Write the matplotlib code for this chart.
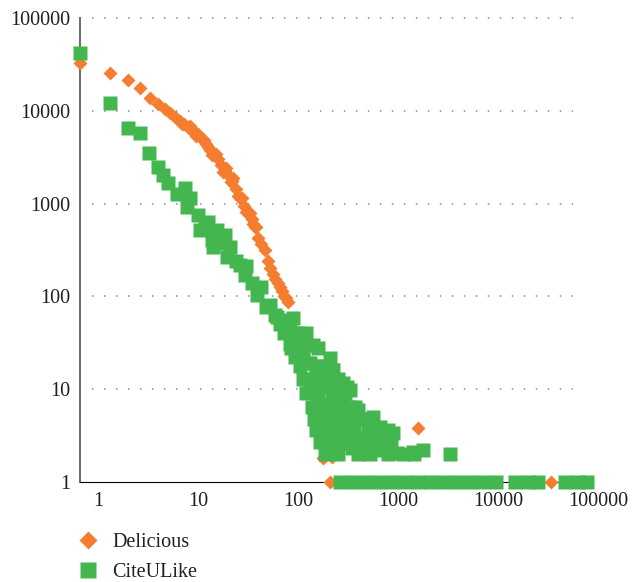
import matplotlib
matplotlib.use("Agg")
import matplotlib.pyplot as plt
from matplotlib.lines import Line2D
from matplotlib.transforms import ScaledTranslation
from matplotlib.ticker import FixedLocator, FixedFormatter, NullLocator

# ---------------- data ----------------
delicious_x = [1, 2, 3, 4, 5, 6, 7, 8, 9, 10, 11, 12, 13, 14, 15, 16, 17, 18, 19, 20,
               22, 24, 26, 28, 30, 33, 36, 40, 44, 48, 52, 56, 60, 65, 70, 75, 80, 85,
               90, 95, 100, 105, 110, 115, 120, 214, 262, 270, 330, 316, 2400, 51500,
               10.5, 12.5, 14.5, 17.5, 21, 23, 27, 29, 32, 34, 38, 42, 46, 50, 54, 58]
delicious_y = [32700, 25400, 21500, 17600, 13800, 11800, 10500, 9400, 8500, 7800, 7200,
               6700, 6200, 5900, 5600, 5200, 4800, 4400, 4100, 3800, 3400, 3000, 2600,
               2300, 2050, 1750, 1450, 1150, 950, 800, 680, 560, 430, 370, 320, 240, 200,
               175, 155, 140, 125, 115, 102, 95, 87, 6.3, 3.0, 1.8, 1.86, 1, 3.8, 1,
               7200, 6800, 5300, 4800, 3300, 3400, 2200, 2400, 1700, 1900, 1200, 1150,
               820, 800, 600, 560]

citeulike_x = [1, 2, 3, 4, 4.9, 6.05, 6.8, 7.6, 9.3, 11.2, 12.6, 11.7, 15.2, 19.2, 15.8,
               17.8, 23.3, 20.7, 25, 28, 21.5, 31.6, 29.3, 36, 40, 46, 44.7, 52, 65, 58.8,
               73, 79, 89, 92.6, 100, 115, 126, 136, 131, 126, 147, 141, 160, 170, 215,
               185, 200, 316, 341, 328, 200, 270, 430, 464, 500, 293, 597, 855, 1000,
               1360, 430, 680, 1000, 1470, 2150, 2700, 5000,
               240, 300, 350, 400, 450, 250, 280, 330, 380, 420, 500, 550, 620, 700, 750,
               900, 1200, 350, 520, 300, 260, 360, 420, 230, 250, 380,
               110, 150, 180, 130, 170, 240, 160, 230, 260, 170, 210, 280, 330,
               180, 230, 330, 380, 450, 210, 260, 400, 500, 560, 220, 300, 400, 650, 700,
               230, 350, 450, 800, 1000, 1200, 250, 300, 500, 560, 800, 1100, 1300,
               280, 380, 600, 800, 1200, 1700, 2200,
               398, 537, 724, 977, 1318, 1778, 2399, 3236, 4365, 5888, 7943, 10715,
               14454, 22387, 30200, 38019, 70795, 95499, 117490]
citeulike_y = [42000, 12200, 6480, 5720, 3540, 2500, 2040, 1660, 1280, 1460, 1140, 930,
               750, 640, 520, 542, 520, 405, 372, 459, 340, 340, 267, 240, 218, 210, 170,
               140, 127, 103, 77.5, 81, 63, 60, 50, 42, 56, 58, 40, 31, 24, 22.4, 35, 26,
               30, 19, 19, 21.5, 16, 16, 10.2, 10.6, 11.6, 10.6, 9.8, 7.0, 5.97, 5.06,
               3.94, 3.35, 2.6, 2.21, 2.2, 2.04, 2.1, 2.2, 2.0,
               8, 6, 5, 7, 5.5, 4.5, 3.5, 4, 3.2, 4.2, 4.5, 3.5, 2.8, 3.0, 4.0,
               2.6, 2.6, 2.5, 2.3, 12.5, 14, 8.5, 8, 6, 12, 13,
               40, 40, 40, 28, 28, 28, 18, 18, 18, 13, 13, 13, 13,
               9, 9, 9, 9, 9, 6.5, 6.5, 6.5, 6.5, 6.5, 4.8, 4.8, 4.8, 4.8, 4.8,
               3.6, 3.6, 3.6, 3.6, 3.6, 3.6, 2.7, 2.7, 2.7, 2.7, 2.7, 2.7, 2.7,
               2.0, 2.0, 2.0, 2.0, 2.0, 2.0, 2.0,
               1, 1, 1, 1, 1, 1, 1, 1, 1, 1, 1, 1,
               1, 1, 1, 1, 1, 1, 1]

series_labels = ["Delicious", "CiteULike"]
tick_values = [1, 10, 100, 1000, 10000, 100000]
tick_labels = ["1", "10", "100", "1000", "10000", "100000"]

# ---------------- style ----------------
ORANGE = "#F47D30"
GREEN = "#43B64F"
TEXT = "#231F20"
FONT = "Liberation Serif"
FS = 14.5
MS_D = 7.6
MS_S = 9.8

plt.rcParams["font.family"] = [FONT, "DejaVu Serif"]

W, H = 632, 582
fig = plt.figure(figsize=(W / 100, H / 100), dpi=100)
ax = fig.add_axes([80 / W, 100 / H, 513 / W, 464 / H])

ax.set_xscale("log")
ax.set_yscale("log")
ax.set_xlim(1, 10 ** 5.13)
ax.set_ylim(1, 1e5)

# dotted gridlines
ytrans = ax.get_yaxis_transform()
for yv in tick_values[1:]:
    ax.plot([0.023, 0.961], [yv, yv], transform=ytrans, color="#8a8a8a",
            lw=1.1, ls=(0, (1, 6.85)), zorder=1, clip_on=False)

ax.plot(delicious_x, delicious_y, ls="none", marker="D", ms=MS_D, color=ORANGE,
        mec="none", zorder=3, clip_on=False)
ax.plot(citeulike_x, citeulike_y, ls="none", marker="s", ms=MS_S, color=GREEN,
        mec="none", zorder=4, clip_on=False)

for s in ["top", "right"]:
    ax.spines[s].set_visible(False)
ax.spines["left"].set_color("#6d6e71")
ax.spines["left"].set_linewidth(1.45)
ax.spines["bottom"].set_color("black")
ax.spines["bottom"].set_linewidth(0.8)
ax.spines["left"].set_zorder(2)
ax.spines["bottom"].set_zorder(2)

ax.xaxis.set_major_locator(FixedLocator(tick_values))
ax.xaxis.set_major_formatter(FixedFormatter(tick_labels))
ax.yaxis.set_major_locator(FixedLocator(tick_values))
ax.yaxis.set_major_formatter(FixedFormatter(tick_labels))
ax.xaxis.set_minor_locator(NullLocator())
ax.yaxis.set_minor_locator(NullLocator())
ax.tick_params(axis="both", length=0, labelsize=FS, labelcolor=TEXT)
ax.tick_params(axis="x", pad=7)
ax.tick_params(axis="y", pad=7)

# x tick labels sit offset to the right in the reference
offset = ScaledTranslation(0.18, 0, fig.dpi_scale_trans)
for lab in ax.get_xticklabels():
    lab.set_transform(lab.get_transform() + offset)

handles = [
    Line2D([], [], ls="none", marker="D", ms=MS_D + 1.5, color=ORANGE, mec="none"),
    Line2D([], [], ls="none", marker="s", ms=12, color=GREEN, mec="none"),
]
leg = fig.legend(handles, series_labels, loc="upper left",
                 bbox_to_anchor=(78 / W, 1 - 533 / H), frameon=False,
                 borderpad=0, borderaxespad=0, handlelength=1.0,
                 handletextpad=0.7, labelspacing=0.55, fontsize=FS)
for t in leg.get_texts():
    t.set_color(TEXT)

fig.savefig("out.png", dpi=100, facecolor="white")
